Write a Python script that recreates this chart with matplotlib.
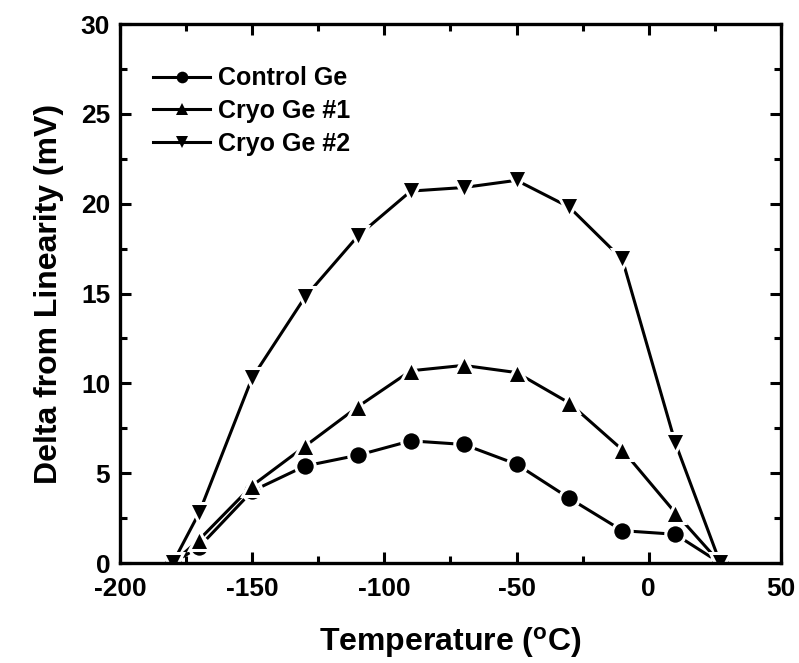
import matplotlib
matplotlib.use('Agg')
import matplotlib.pyplot as plt
from matplotlib.ticker import MultipleLocator

plt.rcParams['font.family'] = ['Liberation Sans', 'DejaVu Sans']
plt.rcParams['font.weight'] = 'bold'
plt.rcParams['mathtext.default'] = 'regular'
plt.rcParams['axes.unicode_minus'] = False

# temperatures (C)
temps = [-180, -170, -150, -130, -110, -90, -70, -50, -30, -10, 10, 27]
control_ge = [0.0, 0.9, 4.0, 5.4, 6.0, 6.8, 6.6, 5.5, 3.6, 1.8, 1.6, 0.0]
cryo_ge_1 = [0.0, 1.3, 4.3, 6.5, 8.7, 10.7, 11.0, 10.6, 8.9, 6.3, 2.8, 0.0]
cryo_ge_2 = [0.0, 2.8, 10.3, 14.8, 18.2, 20.7, 20.9, 21.3, 19.8, 16.9, 6.7, 0.0]

series = [
  ('Control Ge', control_ge, 'o', 14),
  ('Cryo Ge #1', cryo_ge_1, '^', 15),
  ('Cryo Ge #2', cryo_ge_2, 'v', 15),
]

fig = plt.figure(figsize=(7.99, 6.63), dpi=100)
ax = fig.add_axes([0.150, 0.1508, 0.8275, 0.813])

for name, vals, mk, ms in series:
  ax.plot(temps, vals, color='black', lw=2.2, marker=mk, ms=ms,
          mfc='black', mec='white', mew=2.2, label=name)

ax.set_xlim(-200, 50)
ax.set_ylim(0, 30)
ax.xaxis.set_major_locator(MultipleLocator(50))
ax.xaxis.set_minor_locator(MultipleLocator(25))
ax.yaxis.set_major_locator(MultipleLocator(5))
ax.yaxis.set_minor_locator(MultipleLocator(2.5))
ax.tick_params(which='both', direction='in', top=True, right=True,
               labelsize=19, width=2.2)
ax.tick_params(axis='x', pad=10)
ax.tick_params(axis='y', pad=7)
ax.tick_params(which='major', length=8)
ax.tick_params(which='minor', length=5)
for lab in ax.get_xticklabels() + ax.get_yticklabels():
  lab.set_fontweight('bold')
for s in ax.spines.values():
  s.set_linewidth(2.4)

ax.set_xlabel(r'Temperature ($^\mathregular{o}$C)', fontsize=23,
              fontweight='bold', labelpad=17)
ax.set_ylabel('Delta from Linearity (mV)', fontsize=23,
              fontweight='bold', labelpad=12)

leg = ax.legend(loc='upper left', bbox_to_anchor=(0.035, 0.94), frameon=False,
                fontsize=18, markerscale=0.6, handlelength=2.3,
                handletextpad=0.3, labelspacing=0.35, borderaxespad=0)
for h in leg.legend_handles:
  h.set_markeredgewidth(0)

fig.savefig('out.png', dpi=100)
